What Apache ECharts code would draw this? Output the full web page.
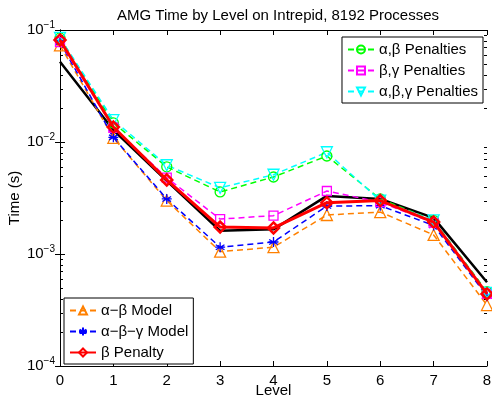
<!DOCTYPE html>
<html><head><meta charset="utf-8">
<script src="https://cdn.jsdelivr.net/npm/echarts@6/dist/echarts.min.js"></script>
<style>html,body{margin:0;padding:0;background:#fff}#c{width:492px;height:400px}</style>
</head><body><div id="c"></div>
<script>
const levels = [0,1,2,3,4,5,6,7,8];
const measured   = [0.052, 0.0128, 0.0045, 0.00161, 0.00166, 0.0033, 0.0031, 0.0021, 0.00056];
const abModel    = [0.073, 0.0109, 0.0030, 0.00105, 0.00115, 0.00223, 0.00237, 0.00148, 0.00035];
const abgModel   = [0.078, 0.0110, 0.0031, 0.00115, 0.00128, 0.00268, 0.0027, 0.0018, 0.00042];
const betaPen    = [0.0815, 0.0136, 0.00459, 0.00174, 0.00171, 0.00287, 0.0030, 0.00193, 0.00044];
const abPen      = [0.085, 0.0148, 0.0060, 0.00358, 0.00487, 0.0075, 0.0031, 0.0020, 0.00046];
const bgPen      = [0.078, 0.0134, 0.0048, 0.00205, 0.0022, 0.00365, 0.0029, 0.0019, 0.00044];
const abgPen     = [0.085, 0.0157, 0.0062, 0.0039, 0.0051, 0.0081, 0.0030, 0.0020, 0.00045];
const yTickExp = ['−4','−3','−2','−1'];
const xName = 'Level';
const yName = 'Time (s)';

const FONT = 'Liberation Sans, Arial, Helvetica, sans-serif';
const FS = 15;
const chart = echarts.init(document.getElementById('c'));
const pairs = a => levels.map((l,i)=>[l,a[i]]);
const dash = [6,4];
function ser(name, data, color, symbol, size, dashed, width, z){
  return {name, type:'line', data:pairs(data), symbol, symbolSize:size, z:z,
    lineStyle:{color, width, type: dashed?dash:'solid'},
    itemStyle:{color:'rgba(0,0,0,0)', borderColor:color, borderWidth: width>2?2.5:1.3},
    emphasis:{disabled:true}, animation:false};
}
const invTri = 'path://M-1,-1L1,-1L0,1Z';
const star = 'path://M0,-1L0,1M-0.87,-0.5L0.87,0.5M-0.87,0.5L0.87,-0.5M-1,0L1,0';
const legendText = {fontFamily:FONT, fontSize:FS, color:'#000'};
const option = {
  backgroundColor:'#fff',
  animation:false,
  title:{text:'AMG Time by Level on Intrepid, 8192 Processes', left:273, top:3, textAlign:'center',
    textStyle:{fontFamily:FONT, fontSize:FS, fontWeight:'normal', color:'#000'}},
  grid:{left:60, right:5, top:30, bottom:34, outerBoundsMode:'none', containLabel:false},
  xAxis:[{type:'value', min:0, max:8, interval:1, position:'bottom',
    axisLine:{show:true, lineStyle:{color:'#000', width:1}},
    axisTick:{show:true, inside:true, length:5, lineStyle:{color:'#000'}},
    axisLabel:{fontFamily:FONT, fontSize:FS, color:'#000', margin:7},
    splitLine:{show:false}},
    {type:'value', min:0, max:8, interval:1, position:'top',
    axisLine:{show:true, lineStyle:{color:'#000', width:1}},
    axisTick:{show:true, inside:true, length:5, lineStyle:{color:'#000'}},
    axisLabel:{show:false}, splitLine:{show:false}}],
  yAxis:[{type:'log', logBase:10, min:1e-4, max:1e-1, position:'left',
    axisLine:{show:true, lineStyle:{color:'#000', width:1}},
    axisTick:{show:true, inside:true, length:5, lineStyle:{color:'#000'}},
    axisLabel:{fontFamily:FONT, fontSize:FS, color:'#000', margin:5,
      formatter: v => { const e = Math.round(Math.log10(v)); return '{b|10}{s|' + yTickExp[e+4] + '}'; },
      rich:{b:{fontFamily:FONT, fontSize:FS, color:'#000'}, s:{fontFamily:FONT, fontSize:10, color:'#000', padding:[0,0,10,0]}}},
    splitLine:{show:false}},
    {type:'log', logBase:10, min:1e-4, max:1e-1, position:'right',
    axisLine:{show:true, lineStyle:{color:'#000', width:1}},
    axisTick:{show:true, inside:true, length:5, lineStyle:{color:'#000'}},
    axisLabel:{show:false}, splitLine:{show:false}}],
  legend:[
    {orient:'vertical', right:9, top:37, padding:[5,5,4,5], itemGap:6, itemWidth:26, itemHeight:10,
      backgroundColor:'#fff', borderColor:'#000', borderWidth:1, borderRadius:0,
      textStyle:legendText, data:['α,β Penalties','β,γ Penalties','α,β,γ Penalties'], selectedMode:false},
    {orient:'vertical', left:64, top:298, padding:[5,5,4,5], itemGap:6, itemWidth:26, itemHeight:10,
      backgroundColor:'#fff', borderColor:'#000', borderWidth:1, borderRadius:0,
      textStyle:legendText, data:['α−β Model','α−β−γ Model','β Penalty'], selectedMode:false}
  ],
  series:[
    {name:'Measured', type:'line', data:pairs(measured), symbol:'none', z:2,
      lineStyle:{color:'#000', width:2.5}, emphasis:{disabled:true}},
    ser('α−β Model', abModel, '#ff8000', 'triangle', 11, true, 1.5, 3),
    ser('α−β−γ Model', abgModel, '#0000ff', star, 10, true, 1.5, 3),
    ser('α,β Penalties', abPen, '#00ff00', 'circle', 10, true, 1.5, 3),
    ser('β,γ Penalties', bgPen, '#ff00ff', 'rect', 9, true, 1.5, 3),
    ser('α,β,γ Penalties', abgPen, '#00ffff', invTri, 11, true, 1.5, 3),
    ser('β Penalty', betaPen, '#ff0000', 'diamond', 11, false, 3, 4)
  ]
};
chart.setOption(option);
// minor log ticks at 2..9 per decade, left and right, computed via the axis scale
const g = [];
const xl = chart.convertToPixel({xAxisIndex:0}, 0), xr = chart.convertToPixel({xAxisIndex:0}, 8);
for (let d=-4; d<-1; d++) {
  for (let m=2; m<=9; m++) {
    const v = m*Math.pow(10,d);
    const y = Math.round(chart.convertToPixel({yAxisIndex:0}, v)) + 0.5;
    g.push({type:'line', shape:{x1:xl, y1:y, x2:xl+3, y2:y}, style:{stroke:'#000', lineWidth:1}, silent:true});
    g.push({type:'line', shape:{x1:xr-3, y1:y, x2:xr, y2:y}, style:{stroke:'#000', lineWidth:1}, silent:true});
  }
}
// axis names
g.push({type:'text', x:(xl+xr)/2, y:391, silent:true,
  style:{text:xName, font:FS+'px '+FONT, fill:'#000', align:'center', verticalAlign:'middle'}});
g.push({type:'text', x:15, y:198, rotation:Math.PI/2, silent:true,
  style:{text:yName, font:FS+'px '+FONT, fill:'#000', align:'center', verticalAlign:'middle'}});
chart.setOption({graphic:g});
</script></body></html>
